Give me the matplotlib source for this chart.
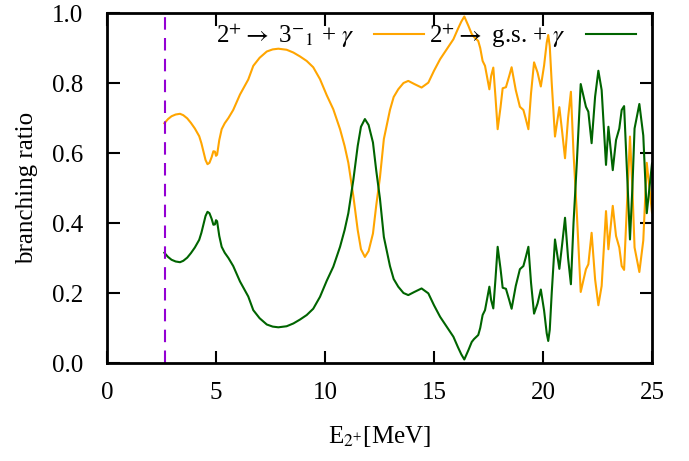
import numpy as np
import matplotlib
matplotlib.use("Agg")
import matplotlib.pyplot as plt

plt.rcParams['font.family'] = ['Liberation Serif', 'DejaVu Serif']
plt.rcParams['mathtext.fontset'] = 'stix'

# ---- data ----
e2 = [2.63, 2.8, 2.96, 3.15, 3.35, 3.5, 3.68, 3.85, 4.03, 4.23, 4.33, 4.42, 4.52, 4.61, 4.7,
      4.8, 4.88, 4.95, 5.0, 5.05, 5.15, 5.26, 5.4, 5.57, 5.79, 6.1, 6.48, 6.71, 7.0, 7.33,
      7.6, 7.86, 8.24, 8.55, 8.85, 9.16, 9.46, 9.77, 10.08, 10.38, 10.69, 10.9, 11.07, 11.3,
      11.5, 11.65, 11.83, 12.0, 12.2, 12.35, 12.52, 12.7, 12.98, 13.15, 13.36, 13.6, 13.82,
      14.1, 14.43, 14.74, 15.0, 15.28, 15.6, 15.89, 16.1, 16.25, 16.39, 16.58, 16.73, 16.83,
      17.03, 17.12, 17.23, 17.34, 17.54, 17.62, 17.72, 17.82, 17.92, 18.05, 18.15, 18.3,
      18.45, 18.56, 18.75, 18.94, 19.1, 19.2, 19.33, 19.45, 19.59, 19.75, 19.9, 20.05, 20.17,
      20.24, 20.31, 20.4, 20.55, 20.65, 20.75, 20.88, 21.01, 21.15, 21.28, 21.4, 21.55, 21.73,
      21.97, 22.08, 22.23, 22.39, 22.54, 22.69, 22.89, 23.0, 23.2, 23.35, 23.5, 23.61, 23.72,
      23.85, 23.99, 24.1, 24.2, 24.42, 24.6, 24.76, 24.88, 25.0]

br_3m = [0.685, 0.697, 0.705, 0.710, 0.712, 0.708, 0.699, 0.686, 0.670, 0.648, 0.628, 0.605,
         0.580, 0.568, 0.572, 0.588, 0.605, 0.604, 0.592, 0.595, 0.637, 0.668, 0.685, 0.700,
         0.723, 0.767, 0.810, 0.849, 0.872, 0.890, 0.896, 0.898, 0.895, 0.887, 0.876, 0.863,
         0.845, 0.811, 0.765, 0.725, 0.668, 0.620, 0.572, 0.477, 0.380, 0.325, 0.303, 0.320,
         0.370, 0.450, 0.530, 0.640, 0.723, 0.760, 0.782, 0.800, 0.806, 0.797, 0.787, 0.801,
         0.835, 0.868, 0.898, 0.925, 0.955, 0.975, 0.990, 0.963, 0.940, 0.932, 0.920, 0.900,
         0.863, 0.849, 0.782, 0.820, 0.844, 0.760, 0.668, 0.730, 0.785, 0.788, 0.820, 0.845,
         0.780, 0.732, 0.723, 0.700, 0.668, 0.770, 0.859, 0.830, 0.790, 0.850, 0.915, 0.937,
         0.905, 0.800, 0.647, 0.690, 0.731, 0.660, 0.585, 0.700, 0.775, 0.600, 0.430, 0.203,
         0.268, 0.282, 0.372, 0.239, 0.165, 0.220, 0.434, 0.325, 0.449, 0.363, 0.330, 0.277,
         0.266, 0.450, 0.647, 0.500, 0.330, 0.260, 0.350, 0.572, 0.500, 0.430]

br_gs = [0.315, 0.303, 0.295, 0.290, 0.288, 0.292, 0.301, 0.314, 0.330, 0.352, 0.372, 0.395,
         0.420, 0.432, 0.428, 0.412, 0.395, 0.396, 0.408, 0.405, 0.363, 0.332, 0.315, 0.300,
         0.277, 0.233, 0.190, 0.151, 0.128, 0.110, 0.104, 0.102, 0.105, 0.113, 0.124, 0.137,
         0.155, 0.189, 0.235, 0.275, 0.332, 0.380, 0.428, 0.523, 0.620, 0.675, 0.697, 0.680,
         0.630, 0.550, 0.470, 0.360, 0.277, 0.240, 0.218, 0.200, 0.194, 0.203, 0.213, 0.199,
         0.165, 0.132, 0.102, 0.075, 0.045, 0.025, 0.010, 0.037, 0.060, 0.068, 0.080, 0.100,
         0.137, 0.151, 0.218, 0.180, 0.156, 0.240, 0.332, 0.270, 0.215, 0.212, 0.180, 0.155,
         0.220, 0.268, 0.277, 0.300, 0.332, 0.230, 0.141, 0.170, 0.210, 0.150, 0.085, 0.063,
         0.095, 0.200, 0.353, 0.310, 0.269, 0.340, 0.415, 0.300, 0.225, 0.400, 0.570, 0.797,
         0.732, 0.718, 0.628, 0.761, 0.835, 0.780, 0.566, 0.675, 0.551, 0.637, 0.670, 0.723,
         0.734, 0.550, 0.353, 0.500, 0.670, 0.740, 0.650, 0.428, 0.500, 0.570]

e_threshold = 2.66   # dashed marker line

# ---- plot ----
fig = plt.figure(figsize=(6.89, 4.61), dpi=100)
ax = fig.add_axes([107/689, 1-363/461, 545/689, 350/461])

ax.plot(e2, br_3m, color='#ffa500', lw=1.5,
        label=r'2$^{+}\rightarrow$ 3$^{-}{}_{1}$ + $\gamma$')
ax.plot(e2, br_gs, color='#006400', lw=1.5,
        label=r'2$^{+}\rightarrow$ g.s. + $\gamma$')
ax.axvline(e_threshold, color='#9400d3', lw=1.5, ls=(0, (6, 4)))

ax.set_xlim(0, 25)
ax.set_ylim(0, 1)
ax.set_xticks(np.arange(0, 26, 5))
ax.set_yticks(np.arange(0, 1.01, 0.2))
ax.set_yticklabels([f"{v:.1f}" for v in np.arange(0, 1.01, 0.2)])
ax.tick_params(direction='in', length=9, width=1.5, labelsize=18,
               top=True, right=True)
ax.tick_params(axis='x', pad=14)
ax.tick_params(axis='y', pad=17)
for s in ax.spines.values():
    s.set_linewidth(2)

ax.set_xlabel(r'E$_{2^{+}}$[MeV]', fontsize=18, labelpad=14)
ax.set_ylabel('branching ratio', fontsize=18, labelpad=10)

ax.legend(loc='upper right', bbox_to_anchor=(1.012, 1.04), ncol=2, frameon=False,
          markerfirst=False, fontsize=18, handlelength=2.0, columnspacing=0.2,
          handletextpad=0.8)

fig.savefig('out.png', dpi=100)
